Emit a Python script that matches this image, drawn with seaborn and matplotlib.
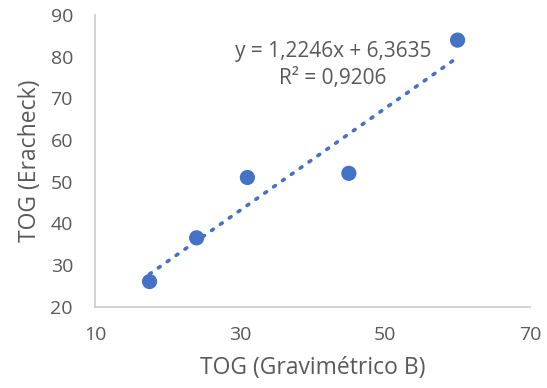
import numpy as np
import matplotlib
matplotlib.use("Agg")
import matplotlib.pyplot as plt
import seaborn as sns

# data
tog_grav = [17.5, 24, 31, 45, 60]
tog_eracheck = [26, 36.5, 51, 52, 84]
slope = 1.2246
intercept = 6.3635
x_ticks = [10, 30, 50, 70]
y_ticks = [20, 30, 40, 50, 60, 70, 80, 90]

sns.set_style("white")
plt.rcParams['font.family'] = ['Open Sans', 'DejaVu Sans']

blue = '#4472C4'
grey_text = '#595959'

fig = plt.figure(figsize=(5.47, 3.88), dpi=100)
ax = fig.add_axes([0.174, 0.21, 0.795, 0.751])

sns.scatterplot(x=tog_grav, y=tog_eracheck, ax=ax, color=blue, s=120,
                edgecolor='none', zorder=3)

# linear trendline (Excel style, dotted)
xl = np.array([min(tog_grav), max(tog_grav)])
ax.plot(xl, slope * xl + intercept, color=blue, linestyle=(0, (0.6, 2.4)),
        linewidth=2.6, dash_capstyle='round', zorder=2)

ax.text(42.8, 78, 'y = 1,2246x + 6,3635\nR² = 0,9206', ha='center', va='center',
        fontsize=15, color=grey_text, linespacing=1.4)

ax.set_xlim(10, 70)
ax.set_ylim(20, 90)
ax.set_xticks(x_ticks)
ax.set_yticks(y_ticks)
ax.tick_params(axis='both', length=0, labelsize=14, labelcolor=grey_text)
ax.tick_params(axis='x', pad=14)
ax.tick_params(axis='y', pad=16)

for side in ['top', 'right']:
    ax.spines[side].set_visible(False)
for side in ['left', 'bottom']:
    ax.spines[side].set_color('#D0D0D0')
    ax.spines[side].set_linewidth(1.3)

ax.set_xlabel('TOG (Gravimétrico B)', fontsize=16.5, color=grey_text, labelpad=9)
ax.set_ylabel('TOG (Eracheck)', fontsize=16.5, color=grey_text, labelpad=6)

fig.savefig('out.png', dpi=100)
